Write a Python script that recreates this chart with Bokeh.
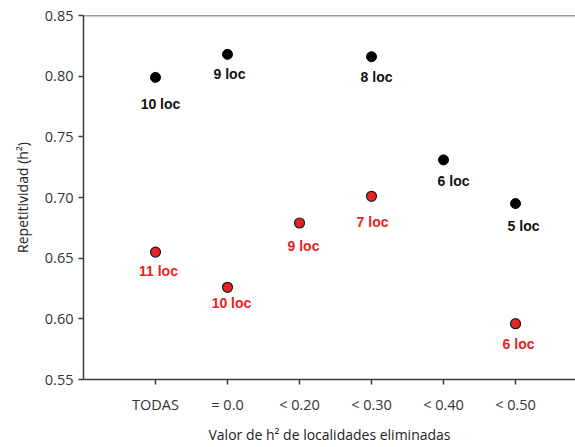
from bokeh.plotting import figure
from bokeh.models import Range1d, FixedTicker, Span, ColumnDataSource
from bokeh.core.properties import value
from bokeh.embed import file_html
from bokeh.resources import INLINE

# Categories on the x axis (threshold of h2 used to drop locations)
categories = ["TODAS", "= 0.0", "< 0.20", "< 0.30", "< 0.40", "< 0.50"]

# Series 1 (black)
black_cats = ["TODAS", "= 0.0", "< 0.30", "< 0.40", "< 0.50"]
black_vals = [0.799, 0.818, 0.816, 0.731, 0.695]
black_labels = ["10 loc", "9 loc", "8 loc", "6 loc", "5 loc"]

# Series 2 (red)
red_cats = ["TODAS", "= 0.0", "< 0.20", "< 0.30", "< 0.50"]
red_vals = [0.655, 0.626, 0.679, 0.701, 0.596]
red_labels = ["11 loc", "10 loc", "9 loc", "7 loc", "6 loc"]

y_ticks = [0.55, 0.60, 0.65, 0.70, 0.75, 0.80, 0.85]

# label nudges in screen pixels (x right, y down)
black_dx = [5, 2, 5, 10, 8]
black_dy = [27, 20, 20, 21, 22]
red_dx = [3, 4, 4, 1, 3]
red_dy = [19, 16, 23, 26, 20]

pos = {c: i + 1 for i, c in enumerate(categories)}

AXIS_COLOR = "#3c3c3c"
TEXT_COLOR = "#333333"
RED = "#e8221e"

p = figure(width=575, height=447, output_backend="svg", toolbar_location=None,
           x_range=Range1d(0, 6.833), y_range=Range1d(0.55, 0.85),
           min_border_left=83, min_border_right=0, min_border_top=15,
           min_border_bottom=68)
p.outline_line_color = None
p.grid.visible = False
p.background_fill_color = "white"
p.border_fill_color = "white"

# x axis
xa = p.xaxis[0]
xa.ticker = FixedTicker(ticks=[pos[c] for c in categories])
xa.major_label_overrides = {pos[c]: c for c in categories}
xa.axis_label = "Valor de h\u00b2 de localidades eliminadas"
# y axis
ya = p.yaxis[0]
ya.ticker = FixedTicker(ticks=y_ticks)
ya.major_label_overrides = {t: f"{t:.2f}" for t in y_ticks}
ya.axis_label = "Repetitividad (h\u00b2)"

for ax in (xa, ya):
    ax.axis_line_color = AXIS_COLOR
    ax.axis_line_width = 1.5
    ax.major_tick_line_color = AXIS_COLOR
    ax.major_tick_line_width = 1.5
    ax.major_tick_in = 0
    ax.minor_tick_line_color = None
    ax.major_label_text_font = "Open Sans"
    ax.major_label_text_font_size = "14.5px"
    ax.major_label_text_color = TEXT_COLOR
    ax.axis_label_text_font = "Open Sans"
    ax.axis_label_text_font_size = "14px"
    ax.axis_label_text_font_style = "normal"
    ax.axis_label_text_color = "#222222"

xa.major_tick_out = 5
xa.major_label_standoff = 10
xa.axis_label_standoff = 8
ya.major_tick_out = 5
ya.major_label_standoff = 5
ya.axis_label_standoff = 10

# top frame line
p.add_layout(Span(location=0.85, dimension="width", line_color=AXIS_COLOR,
                  line_width=1.5))

bsrc = ColumnDataSource(dict(x=[pos[c] for c in black_cats], y=black_vals,
                             t=black_labels, dx=black_dx, dy=black_dy))
rsrc = ColumnDataSource(dict(x=[pos[c] for c in red_cats], y=red_vals,
                             t=red_labels, dx=red_dx, dy=red_dy))

p.scatter("x", "y", source=bsrc, size=10, fill_color="black",
          line_color="black")
p.scatter("x", "y", source=rsrc, size=10, fill_color=RED,
          line_color="#1a1a1a", line_width=1.2)

for src, col in ((bsrc, "#111111"), (rsrc, RED)):
    p.text("x", "y", text="t", source=src, x_offset="dx", y_offset="dy",
           text_font=value("Liberation Sans"), text_font_style="bold",
           text_font_size="14px", text_color=col, text_align="center",
           text_baseline="middle")

open("out.html", "w").write(file_html(p, INLINE))
